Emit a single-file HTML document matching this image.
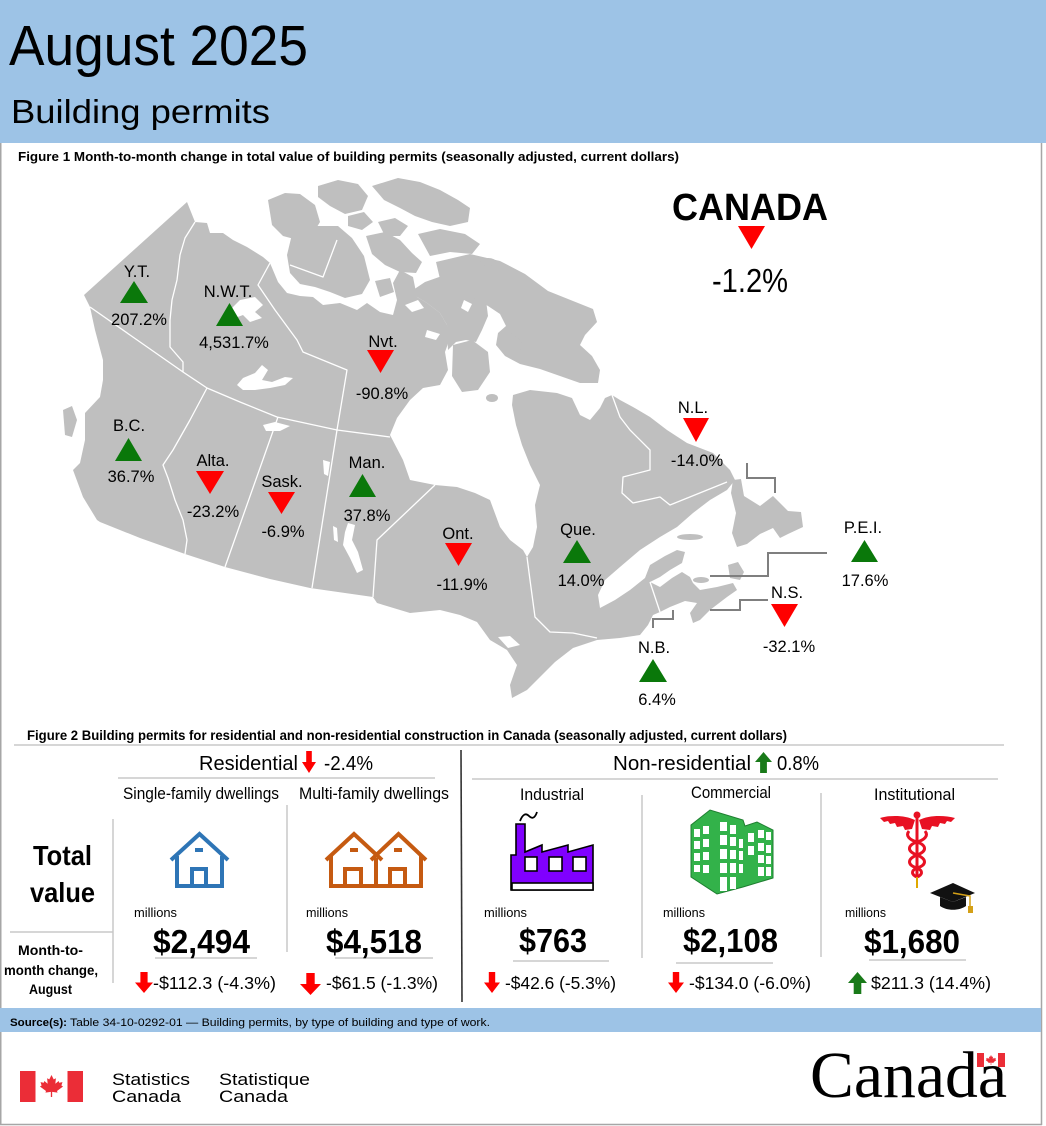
<!DOCTYPE html>
<html><head><meta charset="utf-8">
<style>
html,body{margin:0;padding:0;background:#fff;}
svg{display:block;}
text{font-family:"Liberation Sans",Arial,sans-serif;fill:#000;}
.m{font-size:16.5px;text-anchor:middle;}
.b{font-weight:bold;}
</style></head><body>
<svg width="1046" height="1126" viewBox="0 0 1046 1126" xmlns="http://www.w3.org/2000/svg">
<rect x="0" y="0" width="1046" height="1126" fill="#fff"/>
<!-- header -->
<rect x="0" y="0" width="1046" height="143" fill="#9DC3E6"/>
<text x="9" y="65" font-size="57" textLength="299" lengthAdjust="spacingAndGlyphs">August 2025</text>
<text x="11" y="123" font-size="33" textLength="259" lengthAdjust="spacingAndGlyphs">Building permits</text>
<!-- borders -->
<g stroke="#A6A6A6" stroke-width="1.5" fill="none">
<line x1="0.75" y1="143" x2="0.75" y2="1125"/>
<line x1="1041.5" y1="143" x2="1041.5" y2="1125"/>
<line x1="0" y1="1124.5" x2="1042" y2="1124.5"/>
</g>
<text x="18" y="161" font-size="13" class="b" textLength="661" lengthAdjust="spacingAndGlyphs">Figure 1  Month-to-month change in total value of building permits (seasonally adjusted, current dollars)</text>

<!-- MAP -->
<g fill="#BFBFBF">
<path d="M187,202 L195,222 L207,223 L210,233 L223,233 L233,240 L247,247 L263,257 L270,263 L278,282 L287,293 L300,296 L313,297 L323,305 L340,303 L357,310 L367,303 L380,312 L393,315 L397,300 L393,283 L400,270 L413,277 L417,297 L427,303 L440,313 L447,325 L450,338 L445,352 L448,370 L440,385 L423,388 L410,400 L397,418 L390,435 L403,460 L410,480 L435,485 L457,487 L475,493 L490,500 L500,527 L510,540 L523,550 L527,557 L533,547 L537,527 L535,505 L540,485 L530,465 L522,445 L516,425 L512,405 L513,395 L530,390 L557,393 L572,398 L580,415 L590,420 L600,408 L605,398 L612,395 L620,400 L633,407 L650,417 L667,430 L687,443 L713,453 L730,470 L735,480 L727,490 L710,500 L693,513 L677,527 L660,537 L640,550 L620,567 L605,580 L598,595 L600,608 L615,600 L630,590 L645,578 L650,565 L665,556 L677,550 L685,552 L682,563 L670,570 L660,577 L650,582 L660,587 L672,578 L682,572 L690,577 L693,583 L700,590 L717,587 L733,583 L737,590 L727,597 L710,610 L700,620 L693,623 L690,613 L697,603 L685,601 L670,607 L660,612 L653,615 L648,625 L640,635 L620,638 L597,640 L573,648 L555,662 L540,677 L527,690 L512,698 L510,685 L517,665 L507,650 L490,640 L477,622 L460,615 L440,610 L410,613 L377,603 L373,597 L310,588 L270,579 L225,567 L185,554 L140,538 L100,522 L97,520 L83,497 L73,470 L80,463 L85,440 L85,413 L100,397 L103,380 L103,360 L95,330 L90,307 L84,295 Z"/>
<path d="M63,410 L72,406 L77,420 L72,437 L65,435 Z"/>
<!-- Melville peninsula / Kivalliq extension -->
<path d="M413,290 L425,282 L442,276 L460,280 L476,290 L486,300 L488,316 L482,330 L476,342 L466,340 L456,342 L448,350 L447,325 L440,313 L427,303 L417,297 Z"/>
<!-- arctic islands -->
<path d="M268,200 L285,193 L300,194 L315,205 L320,222 L312,235 L298,240 L283,236 L272,225 Z"/>
<path d="M293,230 L315,226 L338,226 L352,238 L364,256 L370,280 L362,294 L345,298 L330,292 L315,287 L300,284 L290,273 L287,255 Z"/>
<path d="M318,186 L338,180 L358,184 L368,196 L362,210 L345,214 L330,206 L318,197 Z"/>
<path d="M372,186 L398,178 L420,182 L440,190 L458,200 L470,208 L468,222 L450,226 L432,222 L415,216 L400,208 L384,200 Z"/>
<path d="M348,216 L364,212 L373,222 L362,230 L348,226 Z"/>
<path d="M378,222 L395,218 L408,226 L400,236 L385,236 Z"/>
<path d="M366,236 L385,232 L400,240 L412,253 L422,262 L416,273 L400,272 L385,265 L372,254 Z"/>
<path d="M418,234 L440,229 L465,234 L480,244 L472,254 L450,252 L430,256 Z"/>
<path d="M436,262 L470,254 L500,261 L525,274 L548,291 L573,301 L593,309 L597,322 L585,335 L580,345 L592,356 L600,370 L598,383 L580,383 L560,376 L540,369 L520,364 L505,356 L496,345 L498,333 L506,326 L500,314 L488,306 L472,297 L456,289 L440,279 Z"/>
<path d="M375,281 L390,278 L394,292 L380,297 Z"/>
<path d="M453,345 L472,340 L488,352 L490,372 L478,390 L462,392 L452,376 Z"/>
<ellipse cx="492" cy="398" rx="6" ry="4"/>
<path d="M500,340 L512,333 L522,342 L520,356 L507,354 Z"/>
<ellipse cx="488" cy="262" rx="8" ry="4"/>
<!-- east -->
<path d="M733,480 L741,479 L744,496 L760,506 L773,496 L788,511 L801,512 L803,527 L788,534 L780,538 L773,528 L760,534 L747,544 L737,547 L732,533 L736,513 L731,493 Z"/>
<ellipse cx="690" cy="537" rx="13" ry="3"/>
<ellipse cx="701" cy="580" rx="8" ry="3"/>
<path d="M728,565 L738,562 L744,572 L740,580 L730,578 Z"/>
</g>
<!-- lakes -->
<g fill="#fff">
<path d="M240,300 L255,297 L263,305 L255,312 L262,318 L250,322 L243,315 L235,318 L232,308 Z"/>
<path d="M237,385 L243,378 L255,373 L262,365 L268,370 L262,380 L272,382 L285,377 L293,378 L285,385 L270,388 L255,390 L243,390 Z"/>
<path d="M263,425 L275,422 L290,426 L280,431 L266,431 Z"/>
<path d="M348,523 L355,525 L352,540 L358,552 L363,570 L357,573 L350,558 L343,545 L345,532 Z"/>
<path d="M323,460 L330,462 L328,476 L324,474 Z"/>
<path d="M333,526 L337,528 L338,542 L334,540 Z"/>
<path d="M498,637 L510,636 L520,645 L508,648 Z"/>
<path d="M405,305 L418,300 L424,308 L412,312 Z"/>
<path d="M427,330 L440,334 L436,340 L425,337 Z"/>
<path d="M464,300 L472,304 L468,312 L461,308 Z"/>
</g>
<!-- province borders -->
<g stroke="#fff" stroke-width="1.3" fill="none" stroke-linejoin="round">
<polyline points="90,307 130,335 183,372 207,388 240,402 277,417 337,430 390,437"/>
<polyline points="195,222 185,238 180,255 177,280 172,300 170,320 170,347 183,362 183,372"/>
<polyline points="270,263 258,285 275,310 297,340 303,352 347,370 337,430"/>
<polyline points="290,265 323,277 337,240"/>
<polyline points="207,388 190,420 173,450 163,465 168,478 175,500 183,520 187,540 185,554"/>
<polyline points="278,417 225,567"/>
<polyline points="337,430 312,588"/>
<polyline points="435,485 377,540 373,597"/>
<polyline points="527,557 530,580 535,617 550,632 573,633 597,638"/>
<polyline points="612,395 620,417 630,430 650,450 650,470 623,477 622,493 633,503 660,497 670,505 727,482"/>
<polyline points="650,582 656,600 660,612"/>
</g>
<!-- leader lines -->
<g stroke="#7F7F7F" stroke-width="2" fill="none">
<polyline points="747,463 747,478 775,478 775,493"/>
<polyline points="827,553 768,553 768,576 710,576"/>
<polyline points="768,600 740,600 740,610 710,610"/>
<polyline points="673,610 673,619 653,619 653,628"/>
</g>
<!-- triangles -->
<g fill="#0A780A">
<polygon points="120,303 134,281 148,303"/>
<polygon points="216,326 229.5,303 243,326"/>
<polygon points="115,461 128.5,438 142,461"/>
<polygon points="349,497 362.5,474 376,497"/>
<polygon points="563,563 577,540 591,563"/>
<polygon points="639,682 653,659 667,682"/>
<polygon points="851,562 864.5,540 878,562"/>
</g>
<g fill="#FF0000">
<polygon points="367,350 394,350 380.5,373"/>
<polygon points="196,471 224,471 210,494"/>
<polygon points="268,492 295,492 281.5,514"/>
<polygon points="445,543 472,543 458.5,566"/>
<polygon points="683,418 709,418 696,442"/>
<polygon points="771,604 798,604 784.5,627"/>
<polygon points="738,226 765,226 751.5,249"/>
</g>
<!-- map labels -->
<text class="m" x="137" y="277">Y.T.</text><text class="m" x="139" y="325">207.2%</text>
<text class="m" x="228" y="297">N.W.T.</text><text class="m" x="234" y="348">4,531.7%</text>
<text class="m" x="383" y="347">Nvt.</text><text class="m" x="382" y="399">-90.8%</text>
<text class="m" x="129" y="431">B.C.</text><text class="m" x="131" y="482">36.7%</text>
<text class="m" x="213" y="466">Alta.</text><text class="m" x="213" y="517">-23.2%</text>
<text class="m" x="282" y="487">Sask.</text><text class="m" x="283" y="537">-6.9%</text>
<text class="m" x="367" y="468">Man.</text><text class="m" x="367" y="521">37.8%</text>
<text class="m" x="458" y="539">Ont.</text><text class="m" x="462" y="590">-11.9%</text>
<text class="m" x="578" y="535">Que.</text><text class="m" x="581" y="586">14.0%</text>
<text class="m" x="693" y="413">N.L.</text><text class="m" x="697" y="466">-14.0%</text>
<text class="m" x="654" y="653">N.B.</text><text class="m" x="657" y="705">6.4%</text>
<text class="m" x="787" y="598">N.S.</text><text class="m" x="789" y="652">-32.1%</text>
<text class="m" x="863" y="533">P.E.I.</text><text class="m" x="865" y="586">17.6%</text>
<text x="672" y="220" font-size="38" class="b" textLength="156" lengthAdjust="spacingAndGlyphs">CANADA</text>
<text x="712" y="292" font-size="33" textLength="76" lengthAdjust="spacingAndGlyphs">-1.2%</text>

<!-- FIGURE 2 -->
<text x="27" y="740" font-size="13.5" class="b" textLength="760" lengthAdjust="spacingAndGlyphs">Figure 2  Building permits for residential and non-residential construction in Canada (seasonally adjusted, current dollars)</text>
<g stroke="#C8C8C8" stroke-width="1.5" fill="none">
<line x1="14" y1="745" x2="1004" y2="745"/>
<line x1="118" y1="778" x2="435" y2="778"/>
<line x1="472" y1="779" x2="998" y2="779"/>
<line x1="287" y1="805" x2="287" y2="952"/>
<line x1="113" y1="819" x2="113" y2="983"/>
<line x1="642" y1="795" x2="642" y2="958"/>
<line x1="821" y1="793" x2="821" y2="957"/>
<line x1="10" y1="932" x2="113" y2="932"/>
<line x1="155" y1="958" x2="257" y2="958"/>
<line x1="335" y1="958" x2="433" y2="958"/>
<line x1="513" y1="961" x2="609" y2="961"/>
<line x1="676" y1="963" x2="773" y2="963"/>
<line x1="869" y1="960" x2="966" y2="960"/>
</g>
<line x1="461" y1="750" x2="462" y2="1002" stroke="#333" stroke-width="1.6"/>

<text x="199" y="770" font-size="20.5" textLength="99" lengthAdjust="spacingAndGlyphs">Residential</text>
<polygon fill="#FF0000" points="306.2,751 311.8,751 311.8,762 316,762 309,773 302,762 306.2,762"/>
<text x="324" y="770" font-size="20.5" textLength="49" lengthAdjust="spacingAndGlyphs">-2.4%</text>
<text x="613" y="770" font-size="20.5" textLength="138" lengthAdjust="spacingAndGlyphs">Non-residential</text>
<polygon fill="#197A19" points="763.5,752 772,762 766.9,762 766.9,773 760.1,773 760.1,762 755,762"/>
<text x="777" y="770" font-size="20.5" textLength="42" lengthAdjust="spacingAndGlyphs">0.8%</text>

<text x="123" y="799" font-size="16.5" textLength="156" lengthAdjust="spacingAndGlyphs">Single-family dwellings</text>
<text x="299" y="799" font-size="16.5" textLength="150" lengthAdjust="spacingAndGlyphs">Multi-family dwellings</text>
<text x="520" y="800" font-size="16.5" textLength="64" lengthAdjust="spacingAndGlyphs">Industrial</text>
<text x="691" y="798" font-size="16.5" textLength="80" lengthAdjust="spacingAndGlyphs">Commercial</text>
<text x="874" y="800" font-size="16.5" textLength="81" lengthAdjust="spacingAndGlyphs">Institutional</text>

<text x="33" y="865" font-size="28" class="b" textLength="59" lengthAdjust="spacingAndGlyphs">Total</text>
<text x="30" y="902" font-size="28" class="b" textLength="65" lengthAdjust="spacingAndGlyphs">value</text>
<text x="18" y="955" font-size="14" class="b" textLength="65" lengthAdjust="spacingAndGlyphs">Month-to-</text>
<text x="4" y="975" font-size="14" class="b" textLength="94" lengthAdjust="spacingAndGlyphs">month change,</text>
<text x="29" y="994" font-size="14" class="b" textLength="43" lengthAdjust="spacingAndGlyphs">August</text>

<!-- house icons -->
<g fill="none" stroke="#2E75B6" stroke-width="4">
<polyline points="171,860 199.5,834 228,860"/>
<polyline points="177,856 177,886 222,886 222,856"/>
<polyline points="192,886 192,869 206,869 206,886"/>
<line x1="195" y1="850" x2="203" y2="850"/>
</g>
<g fill="none" stroke="#C55A11" stroke-width="4">
<polyline points="326,860 354,834 382,860"/>
<polyline points="331,856 331,886 421,886 421,856"/>
<polyline points="371,860 398.5,834 426,860"/>
<line x1="376" y1="858" x2="376" y2="886"/>
<polyline points="345,886 345,869 361,869 361,886"/>
<polyline points="390,886 390,869 405,869 405,886"/>
<line x1="350" y1="850" x2="358" y2="850"/>
<line x1="394" y1="850" x2="402" y2="850"/>
</g>
<!-- factory -->
<path d="M520,821 Q524,811 529,816 Q534,821 537,812" fill="none" stroke="#000" stroke-width="1.8"/>
<path d="M511,890 L511,855 L516,855 L516,824 L525,824 L525,852 L542,845 L542,852 L568,845 L568,852 L593,845 L593,890 Z" fill="#8000FF" stroke="#000" stroke-width="1.6"/>
<g fill="#fff" stroke="#000" stroke-width="1.6">
<rect x="525" y="857" width="12" height="14"/>
<rect x="549" y="857" width="13" height="14"/>
<rect x="573" y="857" width="13" height="14"/>
<rect x="512" y="883" width="81" height="7"/>
</g>
<!-- commercial building -->
<polygon fill="#33B24A" stroke="#1E7E30" stroke-width="1" points="691,825 710,810 743,820 745,826 757,822 773,830 773,878 743,887 717,894 691,877"/>
<g fill="#fff">
<rect x="694" y="829" width="6" height="8"/><rect x="703" y="826" width="6" height="8"/>
<rect x="694" y="841" width="6" height="8"/><rect x="703" y="839" width="6" height="8"/>
<rect x="694" y="853" width="6" height="8"/><rect x="703" y="852" width="6" height="8"/>
<rect x="694" y="865" width="6" height="7"/><rect x="703" y="865" width="6" height="8"/>
<rect x="720" y="822" width="7" height="9"/><rect x="730" y="825" width="6" height="9"/>
<rect x="720" y="835" width="7" height="10"/><rect x="730" y="837" width="6" height="9"/><rect x="739" y="839" width="4" height="9"/>
<rect x="720" y="849" width="7" height="10"/><rect x="730" y="850" width="6" height="9"/><rect x="739" y="851" width="4" height="9"/>
<rect x="720" y="863" width="7" height="10"/><rect x="730" y="863" width="6" height="10"/><rect x="739" y="864" width="4" height="9"/>
<rect x="720" y="877" width="7" height="14"/><rect x="730" y="877" width="6" height="12"/>
<rect x="748" y="833" width="6" height="9"/><rect x="758" y="830" width="6" height="8"/><rect x="766" y="832" width="5" height="8"/>
<rect x="748" y="846" width="6" height="9"/><rect x="758" y="843" width="6" height="8"/><rect x="766" y="845" width="5" height="8"/>
<rect x="758" y="855" width="6" height="8"/><rect x="766" y="856" width="5" height="8"/>
<rect x="758" y="867" width="6" height="9"/><rect x="766" y="867" width="5" height="9"/>
</g>
<!-- caduceus -->
<g fill="#E81123">
<circle cx="917" cy="815" r="3.5"/>
<path d="M915,820 C905,815 890,815 880,818 L884,822 L888,821 L890,824 L895,823 L897,827 L903,826 L905,830 L912,829 Z"/>
<path d="M919,820 C929,815 944,815 955,818 L951,822 L947,821 L945,824 L940,823 L938,827 L932,826 L930,830 L922,829 Z"/>
<rect x="915.5" y="818" width="3" height="60"/>
</g>
<g fill="none" stroke="#E81123" stroke-width="3">
<path d="M909,831 C905,836 910,840 917,842 C926,845 928,851 917,855 C907,859 907,865 917,868 C924,871 922,875 917,877"/>
<path d="M925,831 C929,836 924,840 917,842 C908,845 906,851 917,855 C927,859 927,865 917,868 C910,871 912,875 917,877"/>
</g>
<line x1="917" y1="877" x2="917" y2="888" stroke="#E0A800" stroke-width="2"/>
<!-- grad cap -->
<polygon fill="#111" points="930,893 953,883 975,893 953,902"/>
<path d="M940,897 L940,906 C947,911 959,911 966,906 L966,897 L953,902 Z" fill="#111"/>
<polyline points="953,893 970,896 970,907" fill="none" stroke="#D4A017" stroke-width="1.5"/>
<rect x="968" y="906" width="5" height="7" fill="#D4A017"/>

<!-- millions -->
<g font-size="12.5">
<text x="134" y="917" textLength="43" lengthAdjust="spacingAndGlyphs">millions</text>
<text x="306" y="917" textLength="42" lengthAdjust="spacingAndGlyphs">millions</text>
<text x="484" y="917" textLength="43" lengthAdjust="spacingAndGlyphs">millions</text>
<text x="663" y="917" textLength="42" lengthAdjust="spacingAndGlyphs">millions</text>
<text x="845" y="917" textLength="41" lengthAdjust="spacingAndGlyphs">millions</text>
</g>
<g font-size="33" font-weight="bold">
<text x="153" y="953" textLength="97" lengthAdjust="spacingAndGlyphs">$2,494</text>
<text x="326" y="953" textLength="96" lengthAdjust="spacingAndGlyphs">$4,518</text>
<text x="519" y="952" textLength="68" lengthAdjust="spacingAndGlyphs">$763</text>
<text x="683" y="952" textLength="95" lengthAdjust="spacingAndGlyphs">$2,108</text>
<text x="864" y="953" textLength="96" lengthAdjust="spacingAndGlyphs">$1,680</text>
</g>
<g font-size="17.5">
<text x="153" y="989" textLength="123" lengthAdjust="spacingAndGlyphs">-$112.3 (-4.3%)</text>
<text x="326" y="989" textLength="112" lengthAdjust="spacingAndGlyphs">-$61.5 (-1.3%)</text>
<text x="505" y="989" textLength="111" lengthAdjust="spacingAndGlyphs">-$42.6 (-5.3%)</text>
<text x="689" y="989" textLength="122" lengthAdjust="spacingAndGlyphs">-$134.0 (-6.0%)</text>
<text x="871" y="989" textLength="120" lengthAdjust="spacingAndGlyphs">$211.3 (14.4%)</text>
</g>
<g fill="#FF0000">
<polygon points="140.4,972 147.6,972 147.6,982.5 153,982.5 144,993 135,982.5 140.4,982.5"/>
<polygon points="306.3,973 314.7,973 314.7,984 321,984 310.5,995 300,984 306.3,984"/>
<polygon points="488.8,972 495.2,972 495.2,982.5 500,982.5 492,993 484,982.5 488.8,982.5"/>
<polygon points="672.8,972 679.2,972 679.2,982.5 684,982.5 676,993 668,982.5 672.8,982.5"/>
</g>
<polygon fill="#197A19" points="857.5,972 867,983 861.3,983 861.3,994 853.7,994 853.7,983 848,983"/>

<!-- source band -->
<rect x="0" y="1008" width="1041" height="24" fill="#9DC3E6"/>
<text x="10" y="1026" font-size="11" class="b" textLength="57" lengthAdjust="spacingAndGlyphs">Source(s):</text>
<text x="70" y="1026" font-size="11" textLength="420" lengthAdjust="spacingAndGlyphs">Table 34-10-0292-01 — Building permits, by type of building and type of work.</text>

<!-- footer -->
<rect x="20" y="1071" width="15.5" height="31" fill="#EB2D37"/>
<rect x="67.5" y="1071" width="15.5" height="31" fill="#EB2D37"/>
<path transform="translate(51.5,1086) scale(1.1)" fill="#EB2D37" d="M0,-10 L2,-6 L4,-7 L3.5,-2 L6.5,-4.5 L7,-3 L10,-3.5 L9,-0.5 L10.5,0.5 L5,4.5 L5.5,6 L0.6,5.3 L0.6,10 L-0.6,10 L-0.6,5.3 L-5.5,6 L-5,4.5 L-10.5,0.5 L-9,-0.5 L-10,-3.5 L-7,-3 L-6.5,-4.5 L-3.5,-2 L-4,-7 L-2,-6 Z"/>
<g font-size="16.5">
<text x="112" y="1085" textLength="78" lengthAdjust="spacingAndGlyphs">Statistics</text>
<text x="112" y="1102" textLength="69" lengthAdjust="spacingAndGlyphs">Canada</text>
<text x="219" y="1085" textLength="91" lengthAdjust="spacingAndGlyphs">Statistique</text>
<text x="219" y="1102" textLength="69" lengthAdjust="spacingAndGlyphs">Canada</text>
</g>
<text x="810" y="1097" font-size="66" style="font-family:'Liberation Serif','Times New Roman',serif" textLength="197" lengthAdjust="spacingAndGlyphs">Canada</text>
<rect x="977" y="1053" width="7" height="14" fill="#EB2D37"/>
<rect x="998" y="1053" width="7" height="14" fill="#EB2D37"/>
<path transform="translate(991,1060) scale(0.5)" fill="#EB2D37" d="M0,-10 L2,-6 L4,-7 L3.5,-2 L6.5,-4.5 L7,-3 L10,-3.5 L9,-0.5 L10.5,0.5 L5,4.5 L5.5,6 L0.6,5.3 L0.6,10 L-0.6,10 L-0.6,5.3 L-5.5,6 L-5,4.5 L-10.5,0.5 L-9,-0.5 L-10,-3.5 L-7,-3 L-6.5,-4.5 L-3.5,-2 L-4,-7 L-2,-6 Z"/>
</svg>
</body></html>
